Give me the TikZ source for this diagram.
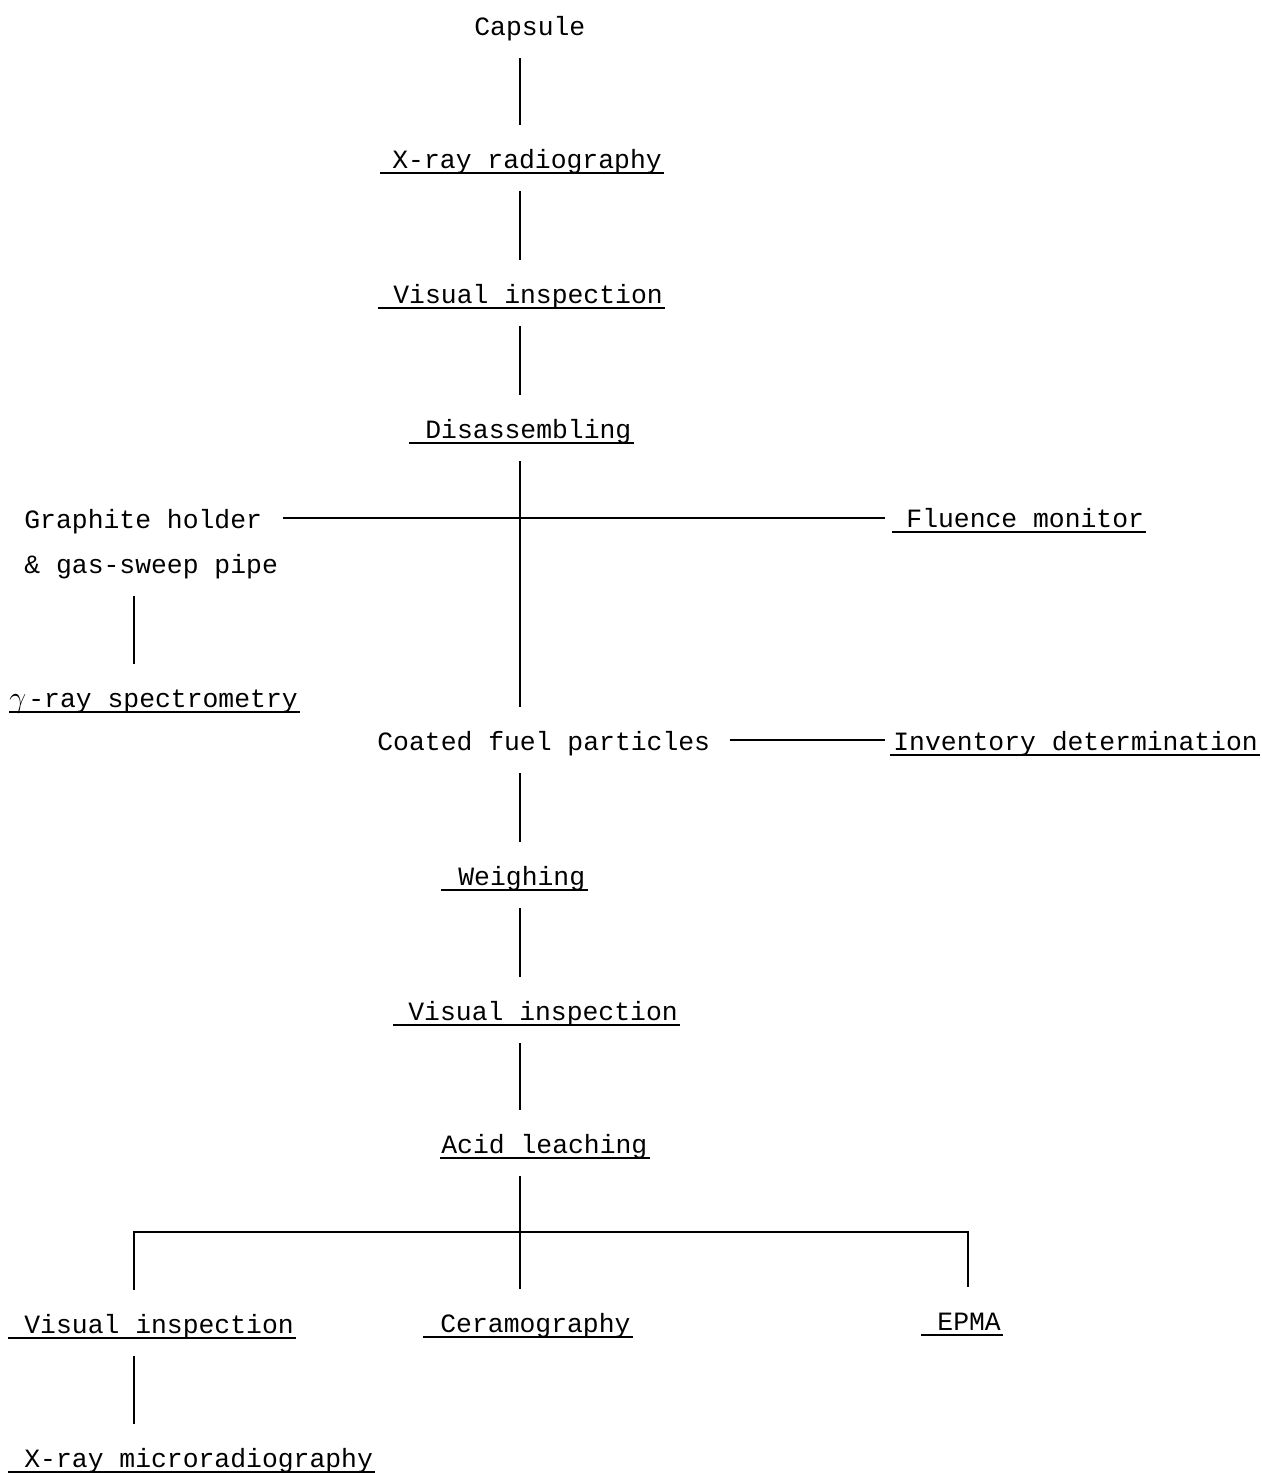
\documentclass[tikz,border=0pt]{standalone}
\usepackage{fontspec}
\setmonofont{Liberation Mono}
\begin{document}
\begin{tikzpicture}[x=0.5pt,y=-0.5pt,
    item/.style={anchor=west, inner xsep=0pt, inner ysep=11.5pt, text height=10pt, text depth=0pt,
        font=\ttfamily\fontsize{13.2}{16}\selectfont},
    link/.style={line width=0.6pt},
    uline/.style={line width=1pt}]
    \useasboundingbox (0,0) rectangle (1262,1473);
    % 1. 竖线位置
    \coordinate (sp) at (520,0);  % 主干
    \coordinate (lc) at (134,0);  % 左支
    \coordinate (rc) at (968,0);  % 右支
    \coordinate (bar) at (520,1232);
    % 2. 主干上的步骤
    \node[item] (cap)  at (474,25)   {Capsule};
    \node[item] (xr)   at (392,158)  {X-ray radiography};
    \node[item] (vi1)  at (393,293)  {Visual inspection};
    \node[item] (dis)  at (425,428)  {Disassembling};
    \node[item] (coat) at (377,740)  {Coated fuel particles};
    \node[item] (wei)  at (458,875)  {Weighing};
    \node[item] (vi2)  at (408,1010) {Visual inspection};
    \node[item] (acid) at (441,1143) {Acid leaching};
    % 3. 侧支
    \node[item] (gh1)  at (24,518)   {Graphite holder};
    \node[item] (gh2)  at (24,563)   {\& gas-sweep pipe};
    \node[item] (gam)  at (9,697)    {\makebox[9.5pt][l]{\scalebox{1.25}{$\gamma$}}-ray spectrometry};
    \node[item] (flu)  at (906,517)  {Fluence monitor};
    \node[item] (inv)  at (893,740)  {Inventory determination};
    % 4. 最下层
    \node[item] (vib)  at (24,1323)  {Visual inspection};
    \node[item] (cer)  at (440,1322) {Ceramography};
    \node[item] (epma) at (937,1320) {EPMA};
    \node[item] (xrm)  at (24,1457)  {X-ray microradiography};
    % 5. 下划线 (前面多一个空格)
    \foreach \n/\l in {xr/12,vi1/15,dis/16,flu/14,gam/0,inv/3,wei/17,vi2/15,acid/1,vib/16,cer/17,epma/16,xrm/16}
        \draw[uline] ([xshift=-\l*0.5pt, yshift=-2.5pt]\n.base west) -- ([xshift=1pt, yshift=-2.5pt]\n.base east);
    % 6. 连线
    \draw[link] (cap.south -| sp) -- (xr.north -| sp);
    \draw[link] (xr.south -| sp) -- (vi1.north -| sp);
    \draw[link] (vi1.south -| sp) -- (dis.north -| sp);
    \draw[link] (dis.south -| sp) -- (coat.north -| sp);
    \draw[link] (coat.south -| sp) -- (wei.north -| sp);
    \draw[link] (wei.south -| sp) -- (vi2.north -| sp);
    \draw[link] (vi2.south -| sp) -- (acid.north -| sp);
    \draw[link] (acid.south -| sp) -- (bar);
    \draw[link, shorten <=10.5pt, shorten >=10.5pt] (gh1.east) -- (gh1.east -| flu.west);
    \draw[link] (gh2.south -| lc) -- (gam.north -| lc);
    \draw[link, shorten <=9.5pt, shorten >=4pt] (coat.east) -- (coat.east -| inv.west);
    \draw[link] (vib.north -| lc) |- (bar) -| (epma.north -| rc);
    \draw[link] (bar) -- (cer.north -| sp);
    \draw[link] (vib.south -| lc) -- (xrm.north -| lc);
\end{tikzpicture}
\end{document}
